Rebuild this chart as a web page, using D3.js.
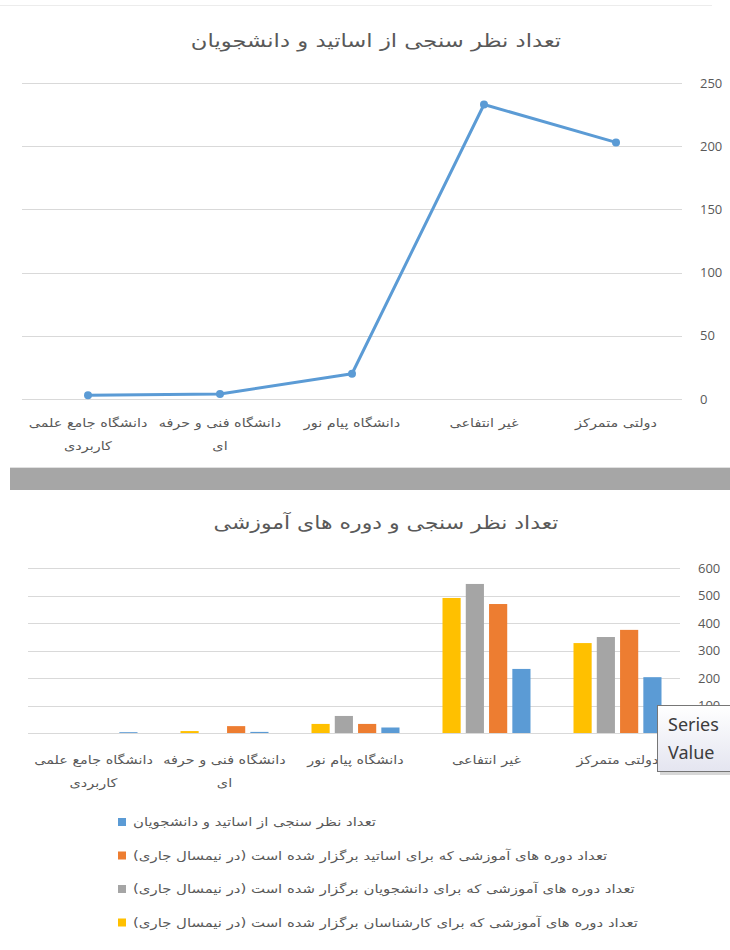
<!DOCTYPE html>
<html><head><meta charset="utf-8">
<script src="https://cdn.jsdelivr.net/npm/d3@7"></script>
<style>body{margin:0;background:#fff} svg{display:block}</style>
</head><body>
<svg id="c" width="730" height="950"></svg>
<script>
// ---- data ----
const categories = ["دولتی متمرکز", "غیر انتفاعی", "دانشگاه پیام نور", "دانشگاه فنی و حرفه ای", "دانشگاه جامع علمی کاربردی"];
const categoryLines = [["دولتی متمرکز"], ["غیر انتفاعی"], ["دانشگاه پیام نور"], ["دانشگاه فنی و حرفه", "ای"], ["دانشگاه جامع علمی", "کاربردی"]];
const surveys = [203, 233, 20, 4, 3];
const staffCourses = [375, 469, 33, 25, 0];
const studentCourses = [349, 542, 62, 0, 0];
const expertCourses = [327, 491, 33, 7, 0];
const seriesNames = [
  "تعداد نظر سنجی از اساتید و دانشجویان",
  "تعداد دوره های آموزشی که برای اساتید برگزار شده است (در نیمسال جاری)",
  "تعداد دوره های آموزشی که برای دانشجویان برگزار شده است (در نیمسال جاری)",
  "تعداد دوره های آموزشی که برای کارشناسان برگزار شده است (در نیمسال جاری)"
];
const seriesColors = ["#5b9bd5", "#ed7d31", "#a5a5a5", "#ffc000"];
const topTicks = [0, 50, 100, 150, 200, 250];
const bottomTicks = [0, 100, 200, 300, 400, 500, 600];
const topTitle = "تعداد نظر سنجی از اساتید و دانشجویان";
const bottomTitle = "تعداد نظر سنجی و دوره های آموزشی";

const series = [surveys, staffCourses, studentCourses, expertCourses];
const AR = "'DejaVu Sans', sans-serif";
const LAT = "'Open Sans', 'Liberation Sans', sans-serif";
const TXT = "#595959";
const GRID = "#d9d9d9";

const svg = d3.select("#c");

// widen Arabic text horizontally to match the reference font's proportions
function stretch(sel, k) {
  const n = sel.node();
  const len = n.getComputedTextLength();
  sel.attr("textLength", (len * k).toFixed(1)).attr("lengthAdjust", "spacingAndGlyphs");
  return sel;
}

// faint chart border at top
svg.append("line").attr("x1", 0).attr("x2", 712).attr("y1", 5.5).attr("y2", 5.5)
  .attr("stroke", "#ececec");

// ===== Top chart =====
const xT = d3.scaleBand().domain(categories).range([682, 22]);
const yT = d3.scaleLinear().domain([0, 250]).range([399, 83]);

stretch(svg.append("text").attr("x", 376).attr("y", 47).attr("text-anchor", "middle")
  .attr("direction", "rtl").attr("font-family", AR).attr("font-size", 18)
  .attr("fill", TXT).text(topTitle), 1.26);

svg.append("g").selectAll("line.grid").data(topTicks).join("line").attr("class", "grid")
  .attr("x1", 22).attr("x2", 682)
  .attr("y1", d => Math.round(yT(d)) + 0.5).attr("y2", d => Math.round(yT(d)) + 0.5)
  .attr("stroke", GRID).attr("stroke-width", 1);

const axT = svg.append("g").attr("transform", "translate(682,0)")
  .call(d3.axisRight(yT).tickValues(topTicks).tickSize(0).tickPadding(18));
axT.select(".domain").remove();
axT.selectAll("text").attr("font-family", LAT).attr("font-size", 13).attr("fill", TXT);

const line = d3.line().x((d, i) => xT(categories[i]) + xT.bandwidth() / 2).y(d => yT(d));
svg.append("path").datum(surveys).attr("d", line).attr("fill", "none")
  .attr("stroke", seriesColors[0]).attr("stroke-width", 3).attr("stroke-linejoin", "round");
svg.selectAll("circle.pt").data(surveys).join("circle").attr("class", "pt")
  .attr("cx", (d, i) => xT(categories[i]) + xT.bandwidth() / 2).attr("cy", d => yT(d))
  .attr("r", 4).attr("fill", seriesColors[0]);

function catLabels(xs, y0) {
  categories.forEach((c, i) => {
    categoryLines[i].forEach((ln, j) => {
      stretch(svg.append("text").attr("x", xs(c) + xs.bandwidth() / 2).attr("y", y0 + j * 23)
        .attr("text-anchor", "middle").attr("direction", "rtl")
        .attr("font-family", AR).attr("font-size", 12).attr("fill", TXT).text(ln), 1.2);
    });
  });
}
catLabels(xT, 427);

// ===== separator band =====
svg.append("rect").attr("x", 10).attr("y", 468).attr("width", 720).attr("height", 22).attr("fill", "#a6a6a6");
svg.append("line").attr("x1", 10).attr("x2", 730).attr("y1", 467.5).attr("y2", 467.5).attr("stroke", "#e0e0e0");

// ===== Bottom chart =====
const xB = d3.scaleBand().domain(categories).range([683, 28]);
const xS = d3.scaleBand().domain([3, 2, 1, 0]).range([-44, 44]).paddingInner(0.22);
const yB = d3.scaleLinear().domain([0, 600]).range([733, 568]);

stretch(svg.append("text").attr("x", 386).attr("y", 529).attr("text-anchor", "middle")
  .attr("direction", "rtl").attr("font-family", AR).attr("font-size", 18)
  .attr("fill", TXT).text(bottomTitle), 1.22);

svg.selectAll("line.gridB").data(bottomTicks).join("line").attr("class", "gridB")
  .attr("x1", 28).attr("x2", 680)
  .attr("y1", d => Math.round(yB(d)) + 0.5).attr("y2", d => Math.round(yB(d)) + 0.5)
  .attr("stroke", GRID).attr("stroke-width", 1);

const axB = svg.append("g").attr("transform", "translate(680,0)")
  .call(d3.axisRight(yB).tickValues(bottomTicks).tickSize(0).tickPadding(18));
axB.select(".domain").remove();
axB.selectAll("text").attr("font-family", LAT).attr("font-size", 13).attr("fill", TXT);

series.forEach((vals, s) => {
  svg.append("g").selectAll("rect").data(vals).join("rect")
    .attr("x", (d, i) => xB(categories[i]) + xB.bandwidth() / 2 + xS(s))
    .attr("width", xS.bandwidth())
    .attr("y", d => yB(d)).attr("height", d => yB(0) - yB(d))
    .attr("fill", seriesColors[s]);
});

catLabels(xB, 764);

// legend
const leg = svg.append("g");
seriesNames.forEach((n, i) => {
  const y = 822 + i * 33.5;
  leg.append("rect").attr("x", 118).attr("y", y - 4).attr("width", 8).attr("height", 8).attr("fill", seriesColors[i]);
  stretch(leg.append("text").attr("x", 133).attr("y", y + 4).attr("direction", "rtl").attr("text-anchor", "end")
    .attr("font-family", AR).attr("font-size", 12).attr("fill", TXT).text(n), 1.24);
});

// hover tooltip box
const defs = svg.append("defs");
const gr = defs.append("linearGradient").attr("id", "tipg").attr("x1", 0).attr("x2", 0).attr("y1", 0).attr("y2", 1);
gr.append("stop").attr("offset", "0%").attr("stop-color", "#ffffff");
gr.append("stop").attr("offset", "100%").attr("stop-color", "#e4e5f0");
const tip = svg.append("g");
tip.append("rect").attr("x", 660).attr("y", 709).attr("width", 90).attr("height", 66).attr("fill", "#bdbdbd").attr("opacity", 0.6);
tip.append("rect").attr("x", 657.5).attr("y", 705.5).attr("width", 90).attr("height", 66)
  .attr("fill", "url(#tipg)").attr("stroke", "#767676");
tip.append("text").attr("x", 668).attr("y", 731).attr("font-family", "'Noto Sans', sans-serif").attr("font-size", 18).attr("fill", "#3c3c3c").text("Series");
tip.append("text").attr("x", 668).attr("y", 759).attr("font-family", "'Noto Sans', sans-serif").attr("font-size", 18).attr("fill", "#3c3c3c").text("Value");
</script>
</body></html>
